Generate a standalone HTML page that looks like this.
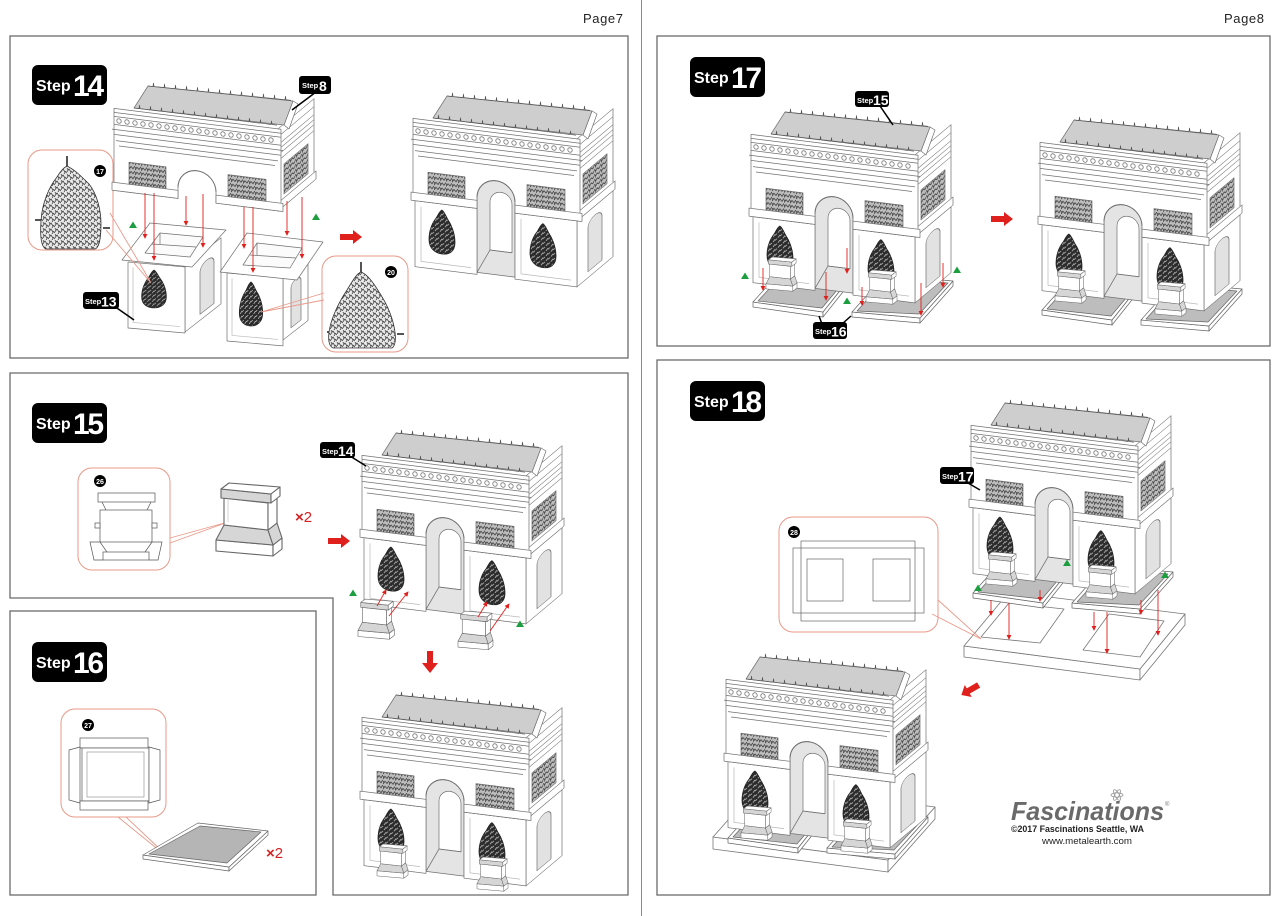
<!DOCTYPE html>
<html><head><meta charset="utf-8"><style>
html,body{margin:0;padding:0;background:#fff;}
svg{display:block}
text{font-family:"Liberation Sans",Arial,sans-serif}
</style></head><body>
<svg width="1280" height="916" viewBox="0 0 1280 916" xmlns="http://www.w3.org/2000/svg">
<defs>
<pattern id="rel" width="6" height="5" patternUnits="userSpaceOnUse">
<rect width="6" height="5" fill="#bdbdbd"/>
<path d="M0 4L2 1L4 3L6 0M0 1L1 3" stroke="#3a3a3a" stroke-width="0.8" fill="none"/>
</pattern>
<pattern id="stat" width="5" height="5" patternUnits="userSpaceOnUse">
<rect width="5" height="5" fill="#2b2b2b"/>
<path d="M0 3L2 1M3 5L5 2" stroke="#c8c8c8" stroke-width="0.7"/>
</pattern>
<pattern id="sk" width="6" height="6" patternUnits="userSpaceOnUse">
<rect width="6" height="6" fill="#e8e8e8"/>
<path d="M0 5L3 1L5 4M1 0L2 2M4 6L6 3" stroke="#333" stroke-width="0.7" fill="none"/>
</pattern>
<marker id="ah" viewBox="0 0 6 6" refX="5" refY="3" markerWidth="5" markerHeight="5" markerUnits="userSpaceOnUse" orient="auto"><path d="M0 0L6 3L0 6Z" fill="#e0201c"/></marker>

<path id="st" d="M0-22c3 2 4 6 6 9c3 4 7 12 7 22c0 9-6 13-13 13s-13-4-13-13c0-10 4-18 7-22c2-3 3-7 6-9z" fill="url(#stat)" stroke="#222" stroke-width="0.8"/>

<g id="ped" stroke="#666" stroke-width="1.1" fill="#fff" stroke-linejoin="round">
<polygon points="0,59 57,64 57,75 0,70"/>
<polygon points="57,64 66,57 66,68 57,75"/>
<polygon points="8,44 52,49 57,64 0,59" fill="#d6d6d6"/>
<polygon points="52,49 61,42 66,57 57,64" fill="#d6d6d6"/>
<polygon points="8,17 52,22 52,49 8,44"/>
<polygon points="52,22 61,15 61,42 52,49"/>
<polygon points="5,8 55,13 55,22 5,17" fill="#d6d6d6"/>
<polygon points="5,8 13,2 64,6 55,13"/>
<polygon points="55,13 64,6 64,15 55,22"/>
</g>

<g id="peds">
<use href="#ped" transform="translate(18,156) scale(0.47)"/>
<use href="#ped" transform="translate(118,169) scale(0.47)"/>
</g>

<g id="plates" stroke="#666" stroke-width="0.7" stroke-linejoin="round">
<polygon points="5,198 75,208 75,213 5,203" fill="#fff"/>
<polygon points="75,208 110,164 110,169 75,213" fill="#fff"/>
<polygon points="5,198 40,159 110,164 75,208" fill="#fff"/>
<polygon points="10,197 42,162 105,167 74,204" fill="#bdbdbd"/>
<polygon points="104,208 172,214 172,219 104,213" fill="#fff"/>
<polygon points="172,214 205,177 205,182 172,219" fill="#fff"/>
<polygon points="104,208 137,171 205,177 172,214" fill="#fff"/>
<polygon points="109,207 139,174 200,179 171,210" fill="#bdbdbd"/>
</g>

<g id="arcBot" stroke="#707070" stroke-width="0.7" fill="#fff" stroke-linejoin="round">
<g transform="translate(167,20.9) skewY(-40)">
<rect x="0" y="112" width="36" height="66"/>
<path d="M11 172V128A7 7 0 0 1 25 128V172Z" fill="#e2e2e2"/>
</g>
<g transform="skewY(7.125)">
<path d="M67 176V101A19 19 0 0 1 105 101V176Z" fill="#e4e4e4"/>
<path d="M80 152V104A11 11 0 0 1 102 104V152Z" fill="#fff"/>
<path d="M67 176L80 152H102" fill="none"/>
<rect x="5" y="112" width="62" height="66"/>
<rect x="105" y="112" width="62" height="66"/>
<path d="M11 117V172H61M111 117V172H161" fill="none" stroke="#b8b8b8"/>
<use href="#st" x="32" y="140"/>
<use href="#st" x="133" y="141"/>
</g>
</g>

<g id="arcTop" stroke="#707070" stroke-width="0.7" fill="#fff" stroke-linejoin="round">
<g transform="translate(167,20.9) skewY(-40)">
<rect x="0" y="30" width="36" height="82"/>
<path d="M0 38H36M0 46H36M0 51H36M0 56H36M0 62H36" fill="none"/>
<rect x="6" y="70" width="24" height="30" fill="url(#rel)"/>
<rect x="0" y="104" width="38" height="8"/>
</g>
<g transform="skewY(7.125)">
<path d="M3 30H170V112H105V101A19 19 0 0 0 67 101V112H3Z"/>
<path d="M3 34H170M3 38H170M3 46H170M1 51H172M3 56H170M5 62H167M8 67H164" fill="none"/>
<g fill="#fff" stroke-width="0.8">
<circle cx="8" cy="42" r="2.2"/><circle cx="16" cy="42" r="2.2"/><circle cx="24" cy="42" r="2.2"/><circle cx="32" cy="42" r="2.2"/><circle cx="40" cy="42" r="2.2"/><circle cx="48" cy="42" r="2.2"/><circle cx="56" cy="42" r="2.2"/><circle cx="64" cy="42" r="2.2"/><circle cx="72" cy="42" r="2.2"/><circle cx="80" cy="42" r="2.2"/><circle cx="88" cy="42" r="2.2"/><circle cx="96" cy="42" r="2.2"/><circle cx="104" cy="42" r="2.2"/><circle cx="112" cy="42" r="2.2"/><circle cx="120" cy="42" r="2.2"/><circle cx="128" cy="42" r="2.2"/><circle cx="136" cy="42" r="2.2"/><circle cx="144" cy="42" r="2.2"/><circle cx="152" cy="42" r="2.2"/><circle cx="160" cy="42" r="2.2"/>
</g>
<rect x="18" y="82" width="37" height="22" fill="url(#rel)"/>
<rect x="117" y="82" width="38" height="22" fill="url(#rel)"/>
<rect x="1" y="104" width="66" height="8"/>
<rect x="105" y="104" width="67" height="8"/>
<path d="M67 101A19 19 0 0 1 105 101" fill="none" stroke-width="1"/>
</g>
<polygon points="173,47 182,23 187,26 178,51"/>
<polygon points="23,30 37,8 182,23 173,47" fill="#cecece"/>
<path d="M37 8l5 .55l.5-3.5l.5 3.5l5 .55l5 .55l.5-3.5l.5 3.5l5 .55l5 .55l.5-3.5l.5 3.5l5 .55l5 .55l.5-3.5l.5 3.5l5 .55l5 .55l.5-3.5l.5 3.5l5 .55l5 .55l.5-3.5l.5 3.5l5 .55l5 .55l.5-3.5l.5 3.5l5 .55l5 .55l.5-3.5l.5 3.5l5 .55l5 .55l.5-3.5l.5 3.5l5 .55l5 .55l.5-3.5l.5 3.5l5 .55l5 .55l.5-3.5l.5 3.5l5 .55l5 .55l.5-3.5l.5 3.5l5 .55l5 .55l.5-3.5l.5 3.5l5 .55" fill="none" stroke="#555"/>
<path d="M23 30l5 .66l.5-3.5l.5 3.5l5 .66l5 .66l.5-3.5l.5 3.5l5 .66l5 .66l.5-3.5l.5 3.5l5 .66l5 .66l.5-3.5l.5 3.5l5 .66l5 .66l.5-3.5l.5 3.5l5 .66l5 .66l.5-3.5l.5 3.5l5 .66l5 .66l.5-3.5l.5 3.5l5 .66l5 .66l.5-3.5l.5 3.5l5 .66l5 .66l.5-3.5l.5 3.5l5 .66l5 .66l.5-3.5l.5 3.5l5 .66l5 .66l.5-3.5l.5 3.5l5 .66l5 .66l.5-3.5l.5 3.5l5 .66l5 .66l.5-3.5l.5 3.5l5 .66" fill="none" stroke="#555"/>
</g>
</defs>

<!-- page labels & divider -->
<text x="583" y="23" font-size="13" fill="#222" textLength="40">Page7</text>
<text x="1224" y="23" font-size="13" fill="#222" textLength="40">Page8</text>
<line x1="641.5" y1="0" x2="641.5" y2="916" stroke="#8a8a8a" stroke-width="1"/>

<!-- panels -->
<g fill="none" stroke="#6b6b6b" stroke-width="1.3">
<rect x="10" y="36" width="618" height="322"/>
<path d="M10 373H628V895H333V598H10Z"/>
<rect x="10" y="611" width="306" height="284"/>
<rect x="657" y="36" width="613" height="310"/>
<rect x="657" y="360" width="613" height="535"/>
</g>

<!-- ============ STEP 14 ============ -->
<rect x="32" y="65" width="75" height="40" rx="6" fill="#000"/>
<text x="36" y="91" fill="#fff" font-weight="bold" font-size="16">Step</text>
<text x="73" y="96" fill="#fff" font-weight="bold" font-size="30" textLength="31">14</text>

<!-- callout 17 -->
<rect x="28" y="150" width="85" height="100" rx="14" fill="#fff" stroke="#e99a8a" stroke-width="1"/>
<path d="M67 156v12M42 220h-7M103 228h7" stroke="#555" stroke-width="2"/>
<path d="M67 166c8 4 14 10 22 18c8 10 12 26 12 40c0 14-2 24-6 25H46c-5-2-6-14-5-28c1-18 8-34 16-44c3-5 6-9 10-11z" fill="url(#sk)" stroke="#333" stroke-width="0.8"/>
<circle cx="100" cy="171" r="6" fill="#000"/><text x="100" y="174" font-size="7" fill="#fff" text-anchor="middle" font-weight="bold">17</text>

<!-- left box -->
<g stroke="#707070" stroke-width="0.7" fill="#fff" stroke-linejoin="round">
<g transform="translate(185,266) skewY(-38)"><rect x="0" y="0" width="36" height="66"/><path d="M15 60V18A7 7 0 0 1 29 18V60Z" fill="#e2e2e2"/></g>
<g transform="translate(128,262) skewY(5)"><rect x="0" y="0" width="57" height="66"/><path d="M5 5V60H52" fill="none" stroke="#b8b8b8"/></g>
<use href="#st" transform="translate(154,289) scale(0.95,0.86)"/>
<polygon points="122,260 150,223 226,230 192,267"/>
<polygon points="145,253 160,233 203,237 190,257" fill="#fbfbfb"/>
<path d="M152 244L196 247M160 233L160 244" fill="none"/>
</g>
<!-- right box -->
<g stroke="#707070" stroke-width="0.7" fill="#fff" stroke-linejoin="round">
<g transform="translate(283,278) skewY(-38)"><rect x="0" y="0" width="25" height="62"/><path d="M8 56V16A5 5 0 0 1 18 16V56Z" fill="#e2e2e2"/></g>
<g transform="translate(227,273) skewY(5)"><rect x="0" y="0" width="56" height="68"/><path d="M5 5V62H51" fill="none" stroke="#b8b8b8"/></g>
<use href="#st" transform="translate(251,304) scale(0.9,1)"/>
<polygon points="220,272 247,233 323,242 297,280"/>
<polygon points="243,265 257,243 302,248 290,268" fill="#fbfbfb"/>
<path d="M250 255L296 258M257 243L257 255" fill="none"/>
</g>

<!-- attic -->
<use href="#arcTop" transform="translate(111,78)"/>

<!-- callout lines 17 -->
<path d="M110 213L150 281M106 230L151 283" stroke="#e99a8a" stroke-width="0.9" fill="none"/>

<!-- callout 20 -->
<rect x="322" y="256" width="86" height="96" rx="14" fill="#fff" stroke="#e99a8a" stroke-width="1"/>
<path d="M324 293L261 312M324 300L261 312" stroke="#e99a8a" stroke-width="0.9" fill="none"/>
<path d="M361 262v12M334 332h-7M397 334h7" stroke="#555" stroke-width="2"/>
<path d="M361 272c6 2 12 10 18 20c8 12 14 26 16 40c1 8 0 14-3 16H333c-4-2-5-8-4-16c2-14 10-30 18-42c5-8 9-16 14-18z" fill="url(#sk)" stroke="#333" stroke-width="0.8"/>
<circle cx="391" cy="272" r="6" fill="#000"/><text x="391" y="275" font-size="7" fill="#fff" text-anchor="middle" font-weight="bold">20</text>

<!-- red arrows step14 -->
<g stroke="#e0201c" stroke-width="0.9" marker-end="url(#ah)">
<line x1="145" y1="193" x2="145" y2="238"/>
<line x1="154" y1="193" x2="154" y2="260"/>
<line x1="186" y1="196" x2="186" y2="225"/>
<line x1="203" y1="194" x2="203" y2="247"/>
<line x1="244" y1="207" x2="244" y2="248"/>
<line x1="253" y1="207" x2="253" y2="272"/>
<line x1="287" y1="201" x2="287" y2="235"/>
<line x1="302" y1="197" x2="302" y2="258"/>
</g>

<!-- step8 label -->
<path d="M316 92L292 110" stroke="#000" stroke-width="1.5"/>
<rect x="299" y="76" width="32" height="18" rx="3" fill="#000"/>
<text x="302" y="88" fill="#fff" font-weight="bold" font-size="7.5">Step</text>
<text x="319" y="91" fill="#fff" font-weight="bold" font-size="14">8</text>
<!-- step13 label -->
<path d="M114 306L134 320" stroke="#000" stroke-width="1.5"/>
<rect x="83" y="292" width="36" height="17" rx="3" fill="#000"/>
<text x="85" y="304" fill="#fff" font-weight="bold" font-size="7.5">Step</text>
<text x="101" y="306.5" fill="#fff" font-weight="bold" font-size="14">13</text>

<polygon points="133,221.5 137,228 129,228" fill="#1b9e3e"/>
<polygon points="316,213.5 320,220 312,220" fill="#1b9e3e"/>
<polygon points="340,234 353,234 353,230 362,237 353,244 353,240 340,240" fill="#e0201c"/>

<use href="#arcBot" transform="translate(410,88)"/>
<use href="#arcTop" transform="translate(410,88)"/>

<!-- ============ STEP 15 ============ -->
<rect x="32" y="403" width="75" height="40" rx="6" fill="#000"/>
<text x="36" y="429" fill="#fff" font-weight="bold" font-size="16">Step</text>
<text x="73" y="434" fill="#fff" font-weight="bold" font-size="30" textLength="31">15</text>

<rect x="78" y="468" width="92" height="102" rx="14" fill="#fff" stroke="#e99a8a" stroke-width="1"/>
<circle cx="100" cy="481" r="6" fill="#000"/><text x="100" y="484" font-size="7" fill="#fff" text-anchor="middle" font-weight="bold">26</text>
<g stroke="#555" stroke-width="0.7" fill="#fff">
<rect x="98" y="493" width="57" height="9"/>
<path d="M102 502L106 510M151 502L147 510"/>
<rect x="100" y="510" width="52" height="32"/>
<rect x="95" y="523" width="5" height="5"/><rect x="152" y="523" width="5" height="5"/>
<polygon points="90,542 100,542 107,552 103,560 94,560"/>
<polygon points="162,542 152,542 145,552 149,560 158,560"/>
<rect x="103" y="552" width="46" height="8"/>
</g>
<path d="M170 538L228 522M170 543L228 522" stroke="#e99a8a" stroke-width="0.9" fill="none"/>
<use href="#ped" transform="translate(216,481)"/>
<path d="M228 500L228 522" stroke="#bbb" stroke-width="0.6"/>
<text x="295" y="522" font-size="15" fill="#d42222"><tspan font-weight="bold">×</tspan>2</text>
<polygon points="328,538 341,538 341,534 350,541 341,548 341,544 328,544" fill="#e0201c"/>

<use href="#arcBot" transform="translate(359,425)"/>
<use href="#arcTop" transform="translate(359,425)"/>
<!-- step14 small label -->
<path d="M350 456L366 466" stroke="#000" stroke-width="1.5"/>
<rect x="320" y="442" width="35" height="16" rx="3" fill="#000"/>
<text x="322" y="454" fill="#fff" font-weight="bold" font-size="7.5">Step</text>
<text x="338" y="456" fill="#fff" font-weight="bold" font-size="14">14</text>

<use href="#ped" transform="translate(358,598) scale(0.55)"/>
<use href="#ped" transform="translate(458,610) scale(0.53)"/>
<g stroke="#e0201c" stroke-width="0.9" marker-end="url(#ah)">
<line x1="377" y1="606" x2="386" y2="590"/>
<line x1="389" y1="616" x2="408" y2="592"/>
<line x1="478" y1="617" x2="487" y2="602"/>
<line x1="490" y1="631" x2="509" y2="604"/>
</g>
<polygon points="353,589.5 357,596 349,596" fill="#1b9e3e"/>
<polygon points="520,620.5 524,627 516,627" fill="#1b9e3e"/>
<polygon points="427,651 433,651 433,663 438,663 430,673 422,663 427,663" fill="#e0201c"/>

<use href="#arcBot" transform="translate(359,687)"/>
<use href="#peds" transform="translate(359,687)"/>
<use href="#arcTop" transform="translate(359,687)"/>

<!-- ============ STEP 16 ============ -->
<rect x="32" y="642" width="75" height="40" rx="6" fill="#000"/>
<text x="36" y="668" fill="#fff" font-weight="bold" font-size="16">Step</text>
<text x="73" y="673" fill="#fff" font-weight="bold" font-size="30" textLength="31">16</text>

<rect x="61" y="709" width="105" height="108" rx="14" fill="#fff" stroke="#e99a8a" stroke-width="1"/>
<circle cx="88" cy="725" r="6" fill="#000"/><text x="88" y="728" font-size="7" fill="#fff" text-anchor="middle" font-weight="bold">27</text>
<g stroke="#555" stroke-width="0.7" fill="#fff">
<rect x="80" y="738" width="68" height="10"/>
<rect x="82" y="748" width="67" height="53"/>
<rect x="87" y="752" width="57" height="45" stroke="#999"/>
<polygon points="69,750 80,747 80,803 69,800"/>
<polygon points="160,750 149,747 149,803 160,800"/>
<rect x="80" y="801" width="68" height="9"/>
</g>
<path d="M118 817L160 851M126 817L162 851" stroke="#e99a8a" stroke-width="0.9" fill="none"/>
<g stroke="#666" stroke-width="0.7" stroke-linejoin="round">
<polygon points="143,855 229,867 229,871 143,859" fill="#fff"/>
<polygon points="229,867 268,831 268,835 229,871" fill="#fff"/>
<polygon points="143,855 198,823 268,831 229,867" fill="#fff"/>
<polygon points="149,854 200,826 261,832 227,863" fill="#b5b5b5"/>
</g>
<text x="266" y="858" font-size="15" fill="#d42222"><tspan font-weight="bold">×</tspan>2</text>

<!-- ============ STEP 17 ============ -->
<rect x="690" y="57" width="75" height="40" rx="6" fill="#000"/>
<text x="694" y="83" fill="#fff" font-weight="bold" font-size="16">Step</text>
<text x="731" y="88" fill="#fff" font-weight="bold" font-size="30" textLength="31">17</text>

<use href="#plates" transform="translate(748,104)"/>
<use href="#arcBot" transform="translate(748,104)"/>
<use href="#peds" transform="translate(748,100)"/>
<use href="#arcTop" transform="translate(748,104)"/>
<g stroke="#e0201c" stroke-width="0.9" marker-end="url(#ah)">
<line x1="763" y1="268" x2="763" y2="290"/>
<line x1="826" y1="272" x2="826" y2="300"/>
<line x1="847" y1="248" x2="847" y2="273"/>
<line x1="862" y1="287" x2="862" y2="305"/>
<line x1="921" y1="283" x2="921" y2="315"/>
<line x1="943" y1="263" x2="943" y2="287"/>
</g>
<polygon points="745,272.5 749,279 741,279" fill="#1b9e3e"/>
<polygon points="957,266.5 961,273 953,273" fill="#1b9e3e"/>
<polygon points="847,297.5 851,304 843,304" fill="#1b9e3e"/>
<!-- step15 label -->
<path d="M880 106L893 125" stroke="#000" stroke-width="1.5"/>
<rect x="855" y="91" width="34" height="16" rx="3" fill="#000"/>
<text x="857" y="103" fill="#fff" font-weight="bold" font-size="7.5">Step</text>
<text x="873" y="105" fill="#fff" font-weight="bold" font-size="14">15</text>
<!-- step16 label -->
<path d="M822 324L819 316M842 324L851 316" stroke="#000" stroke-width="1.5"/>
<rect x="813" y="322" width="34" height="17" rx="3" fill="#000"/>
<text x="815" y="334" fill="#fff" font-weight="bold" font-size="7.5">Step</text>
<text x="831" y="336.5" fill="#fff" font-weight="bold" font-size="14">16</text>

<polygon points="991,216 1004,216 1004,212 1013,219 1004,226 1004,222 991,222" fill="#e0201c"/>

<use href="#plates" transform="translate(1037,112)"/>
<use href="#arcBot" transform="translate(1037,112)"/>
<use href="#peds" transform="translate(1037,112)"/>
<use href="#arcTop" transform="translate(1037,112)"/>

<!-- ============ STEP 18 ============ -->
<rect x="690" y="381" width="75" height="40" rx="6" fill="#000"/>
<text x="694" y="407" fill="#fff" font-weight="bold" font-size="16">Step</text>
<text x="731" y="412" fill="#fff" font-weight="bold" font-size="30" textLength="31">18</text>

<!-- base with holes -->
<g stroke="#777" stroke-width="0.8" stroke-linejoin="round">
<polygon points="964,646 1140,669 1140,680 964,657" fill="#fff"/>
<polygon points="1140,669 1185,614 1185,625 1140,680" fill="#fff"/>
<polygon points="964,646 1009,592 1185,614 1140,669" fill="#fff"/>
<polygon points="981,637 1009,603 1064,609 1040,643" fill="#fff"/>
<polygon points="1083,650 1109,614 1164,621 1140,657" fill="#fff"/>
</g>
<rect x="779" y="517" width="159" height="115" rx="14" fill="#fff" stroke="#e99a8a" stroke-width="1"/>
<circle cx="794" cy="532" r="6" fill="#000"/><text x="794" y="535" font-size="7" fill="#fff" text-anchor="middle" font-weight="bold">28</text>
<g stroke="#666" stroke-width="0.7" fill="none">
<rect x="793" y="548" width="131" height="65"/>
<rect x="801" y="541" width="114" height="80"/>
<rect x="807" y="559" width="36" height="42"/>
<rect x="873" y="559" width="37" height="42"/>
</g>
<path d="M938 600L981 639M932 614L981 639" stroke="#e99a8a" stroke-width="0.9" fill="none"/>

<use href="#plates" transform="translate(968,395)"/>
<use href="#arcBot" transform="translate(968,395)"/>
<use href="#peds" transform="translate(968,395)"/>
<use href="#arcTop" transform="translate(968,395)"/>
<g stroke="#e0201c" stroke-width="0.9" marker-end="url(#ah)">
<line x1="991" y1="600" x2="991" y2="615"/>
<line x1="1009" y1="603" x2="1009" y2="639"/>
<line x1="1040" y1="590" x2="1040" y2="601"/>
<line x1="1094" y1="612" x2="1094" y2="630"/>
<line x1="1107" y1="612" x2="1107" y2="653"/>
<line x1="1141" y1="600" x2="1141" y2="614"/>
<line x1="1158" y1="590" x2="1158" y2="635"/>
</g>
<polygon points="978,584.5 982,591 974,591" fill="#1b9e3e"/>
<polygon points="1067,559.5 1071,566 1063,566" fill="#1b9e3e"/>
<polygon points="1165,571.5 1169,578 1161,578" fill="#1b9e3e"/>
<!-- step17 label -->
<path d="M968 483L980 490" stroke="#000" stroke-width="1.5"/>
<rect x="940" y="467" width="34" height="17" rx="3" fill="#000"/>
<text x="942" y="479" fill="#fff" font-weight="bold" font-size="7.5">Step</text>
<text x="958" y="481.5" fill="#fff" font-weight="bold" font-size="14">17</text>

<polygon points="-10,-3 2,-3 2,-7 10,0 2,7 2,3 -10,3" fill="#e0201c" transform="translate(970,690) rotate(150)"/>

<!-- big base slab -->
<g stroke="#777" stroke-width="0.8" stroke-linejoin="round">
<polygon points="713,837 888,860 888,872 713,849" fill="#fff"/>
<polygon points="888,860 935,807 935,819 888,872" fill="#fff"/>
<polygon points="713,837 760,784 935,807 888,860" fill="#fff"/>
</g>
<use href="#plates" transform="translate(723,640)"/>
<use href="#arcBot" transform="translate(723,649)"/>
<use href="#peds" transform="translate(723,649)"/>
<use href="#arcTop" transform="translate(723,649)"/>

<!-- Fascinations logo -->
<g stroke="#999" stroke-width="0.8" fill="none">
<ellipse cx="1117" cy="795" rx="6" ry="2.2"/>
<ellipse cx="1117" cy="795" rx="6" ry="2.2" transform="rotate(60 1117 795)"/>
<ellipse cx="1117" cy="795" rx="6" ry="2.2" transform="rotate(-60 1117 795)"/>
</g>
<text x="1011" y="820" font-size="26" font-weight="bold" font-style="italic" fill="#6a6a6a" textLength="153" lengthAdjust="spacingAndGlyphs">Fascinations</text>
<text x="1165" y="806" font-size="6" fill="#777">®</text>
<text x="1011" y="832" font-size="9.5" font-weight="bold" fill="#222" textLength="133" lengthAdjust="spacingAndGlyphs">©2017 Fascinations Seattle, WA</text>
<text x="1042" y="844" font-size="9.5" fill="#222" textLength="90" lengthAdjust="spacingAndGlyphs">www.metalearth.com</text>
</svg>
</body></html>
